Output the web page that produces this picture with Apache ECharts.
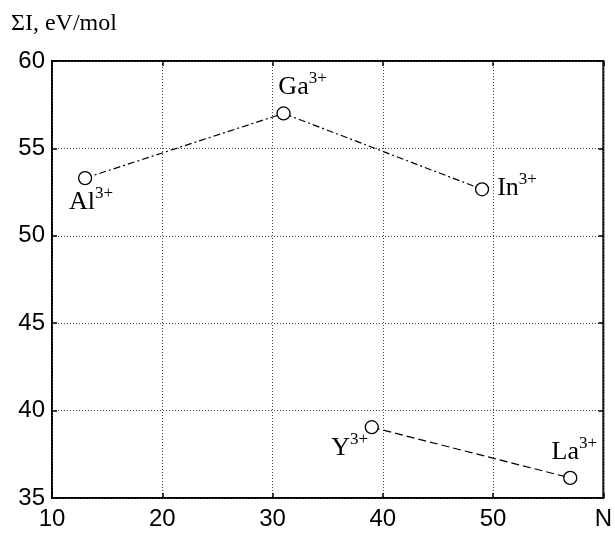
<!DOCTYPE html>
<html><head><meta charset="utf-8">
<script src="https://cdn.jsdelivr.net/npm/echarts@6/dist/echarts.min.js"></script>
<style>html,body{margin:0;padding:0;background:#fff}#c{width:615px;height:534px}</style>
</head><body><div id="c"></div>
<script>
// Data
const groupA_N = [13, 31, 49];
const groupA_I = [53.3, 57.0, 52.66];
const groupA_ion = ['Al', 'Ga', 'In'];
const groupB_N = [39, 57];
const groupB_I = [39.05, 36.15];
const groupB_ion = ['Y', 'La'];
const xTicks = [10, 20, 30, 40, 50, 60];
const xTickLabels = ['10', '20', '30', '40', '50', 'N'];
const yTicks = [35, 40, 45, 50, 55, 60];
const charge = '3+';
const yTitle = 'ΣI, eV/mol';

// label placement (style)
const labelOffsets = {Al: [6, 22], Ga: [19, -28], In: [35, -3], Y: [-22, 19], La: [4, -28]};

const chart = echarts.init(document.getElementById('c'), null, {renderer: 'canvas'});
const rich = {
  a: {fontFamily: 'Liberation Serif', fontSize: 26, color: '#000', lineHeight: 30, verticalAlign: 'bottom'},
  s: {fontFamily: 'Liberation Serif', fontSize: 17, color: '#000', lineHeight: 30, verticalAlign: 'top', padding: [0,0,0,0]}
};
function mk(xs, ys, names) {
  return xs.map((x, i) => ({
    value: [x, ys[i]],
    label: {
      show: true, position: 'inside', align: 'center', verticalAlign: 'middle',
      offset: labelOffsets[names[i]],
      formatter: '{a|' + names[i] + '}{s|' + charge + '}',
      rich: rich
    }
  }));
}
const axisFont = {fontFamily: 'Liberation Sans', fontSize: 24, color: '#000'};
chart.setOption({
  animation: false,
  backgroundColor: '#fff',
  title: {text: yTitle, left: 6, top: 7, textStyle: {fontFamily: 'Liberation Serif', fontSize: 24, fontWeight: 'normal', color: '#000'}},
  grid: {left: 52, right: 5, top: 61, bottom: 36, show: true, borderColor: '#000', borderWidth: 2, backgroundColor: 'transparent'},
  xAxis: [{
    type: 'value', min: 10, max: 60, interval: 10,
    axisLine: {show: false},
    axisTick: {show: true, inside: true, length: 5, lineStyle: {color: '#000', width: 1.5}},
    axisLabel: Object.assign({margin: 9, formatter: v => xTickLabels[xTicks.indexOf(v)]}, axisFont),
    splitLine: {show: true, lineStyle: {color: '#444', type: [1, 2], width: 1}}
  }, {
    type: 'value', min: 10, max: 60, interval: 10, position: 'top',
    axisLine: {show: false},
    axisTick: {show: true, inside: true, length: 5, lineStyle: {color: '#000', width: 1.5}},
    axisLabel: {show: false}, splitLine: {show: false}
  }],
  yAxis: [{
    type: 'value', min: 35, max: 60, interval: 5,
    axisLine: {show: false},
    axisTick: {show: true, inside: true, length: 5, lineStyle: {color: '#000', width: 1.5}},
    axisLabel: Object.assign({margin: 7}, axisFont),
    splitLine: {show: true, lineStyle: {color: '#444', type: [1, 2], width: 1}}
  }, {
    type: 'value', min: 35, max: 60, interval: 5, position: 'right',
    axisLine: {show: false},
    axisTick: {show: true, inside: true, length: 5, lineStyle: {color: '#000', width: 1.5}},
    axisLabel: {show: false}, splitLine: {show: false}
  }],
  series: [{
    type: 'line', data: mk(groupA_N, groupA_I, groupA_ion),
    symbol: 'circle', symbolSize: 13, showAllSymbol: true,
    itemStyle: {color: '#fff', borderColor: '#000', borderWidth: 1.3},
    lineStyle: {color: '#000', width: 1.2, type: [7, 3, 2, 3]}
  }, {
    type: 'line', data: mk(groupB_N, groupB_I, groupB_ion),
    symbol: 'circle', symbolSize: 13, showAllSymbol: true,
    itemStyle: {color: '#fff', borderColor: '#000', borderWidth: 1.3},
    lineStyle: {color: '#000', width: 1.2, type: [8, 4]}
  }]
});
</script></body></html>
